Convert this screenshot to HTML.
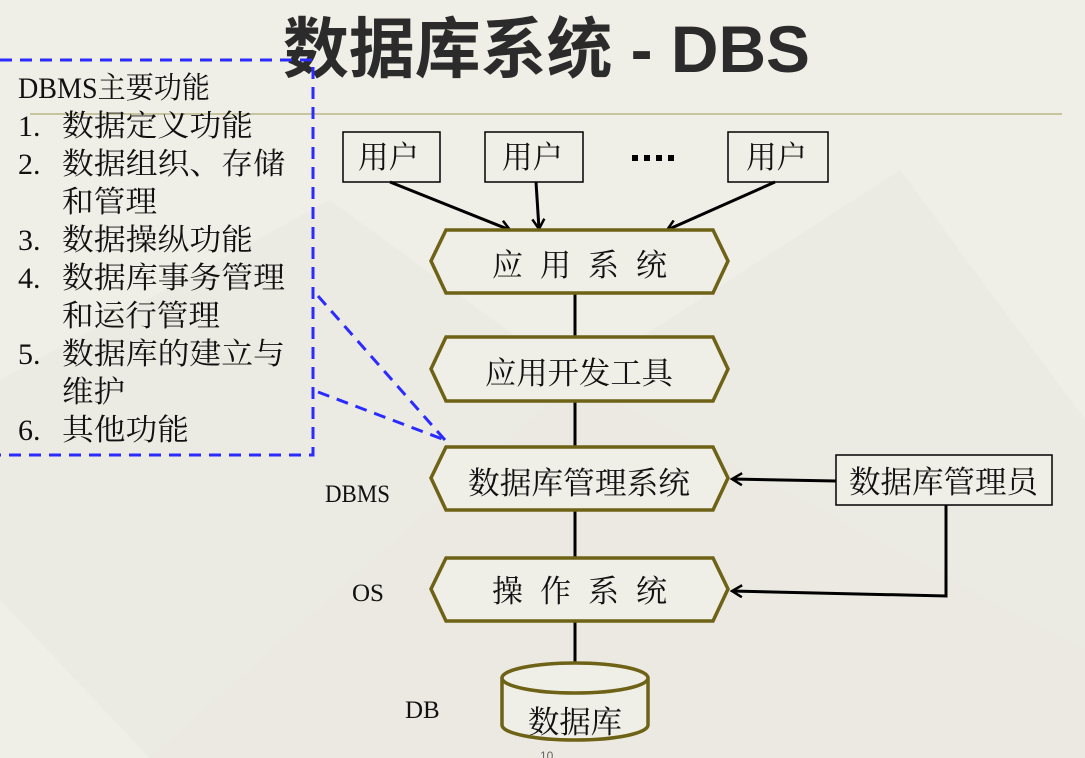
<!DOCTYPE html>
<html><head><meta charset="utf-8"><style>
body{margin:0;width:1085px;height:758px;overflow:hidden;background:#efeee7;}
svg{display:block}
.s{font-family:"Liberation Serif","Noto Serif CJK SC",serif;}
</style></head><body>
<svg width="1085" height="758" viewBox="0 0 1085 758" xmlns="http://www.w3.org/2000/svg">
<defs><marker id="a" markerWidth="14" markerHeight="14" refX="11" refY="7" orient="auto" markerUnits="userSpaceOnUse"><path d="M1,1 L11,7 L1,13" fill="none" stroke="#000" stroke-width="2.5"/></marker></defs>
<rect width="1085" height="758" fill="#efeee7"/>
<path d="M150,758 L575,380 L1085,650 L1085,758 Z" fill="#e7e6de" opacity="0.6"/>
<path d="M330,200 L575,380 L900,170 L1085,420 L1085,650 L575,380 L150,758 L0,600 L0,380 Z" fill="#e9e8e0" opacity="0.5"/>
<line x1="30" y1="114" x2="1062" y2="114" stroke="#c9c4a0" stroke-width="2"/>
<text x="283" y="72" font-family="Liberation Sans,'Noto Sans CJK SC',sans-serif" font-weight="bold" font-size="66" fill="#2b2b2b" textLength="527" lengthAdjust="spacingAndGlyphs">数据库系统 - DBS</text>
<g fill="none" stroke="#2b2bff" stroke-width="3" stroke-dasharray="12,8">
<polyline points="0,60 313,60 313,455 0,455"/>
<line x1="318" y1="296" x2="445" y2="440"/>
<line x1="318" y1="392" x2="445" y2="440"/>
</g>
<g class="s" font-size="30" fill="#111">
<text x="18" y="98" textLength="192" lengthAdjust="spacingAndGlyphs">DBMS主要功能</text>
<text x="18" y="136">1.</text><text x="62" y="136" textLength="191" lengthAdjust="spacingAndGlyphs">数据定义功能</text>
<text x="18" y="174">2.</text><text x="62" y="174" textLength="223" lengthAdjust="spacingAndGlyphs">数据组织、存储</text>
<text x="62" y="212" textLength="95" lengthAdjust="spacingAndGlyphs">和管理</text>
<text x="18" y="250">3.</text><text x="62" y="250" textLength="191" lengthAdjust="spacingAndGlyphs">数据操纵功能</text>
<text x="18" y="288">4.</text><text x="62" y="288" textLength="223" lengthAdjust="spacingAndGlyphs">数据库事务管理</text>
<text x="62" y="326" textLength="158" lengthAdjust="spacingAndGlyphs">和运行管理</text>
<text x="18" y="364">5.</text><text x="62" y="364" textLength="223" lengthAdjust="spacingAndGlyphs">数据库的建立与</text>
<text x="62" y="402" textLength="63" lengthAdjust="spacingAndGlyphs">维护</text>
<text x="18" y="440">6.</text><text x="62" y="440" textLength="127" lengthAdjust="spacingAndGlyphs">其他功能</text>
</g>
<g fill="#efeee7" stroke="#000" stroke-width="1.5">
<rect x="343" y="132" width="97" height="50"/>
<rect x="485" y="132" width="98" height="50"/>
<rect x="728" y="132" width="100" height="50"/>
<rect x="836" y="455" width="216" height="50"/>
</g>
<g class="s" font-size="31" fill="#111">
<text x="358" y="168" textLength="61" lengthAdjust="spacingAndGlyphs">用户</text>
<text x="502" y="168" textLength="61" lengthAdjust="spacingAndGlyphs">用户</text>
<text x="746" y="168" textLength="61" lengthAdjust="spacingAndGlyphs">用户</text>
<text x="849" y="493" textLength="189" lengthAdjust="spacingAndGlyphs">数据库管理员</text>
</g>
<g fill="#000"><rect x="632" y="155" width="6" height="6"/><rect x="644" y="155" width="6" height="6"/><rect x="656" y="155" width="6" height="6"/><rect x="668" y="155" width="6" height="6"/></g>
<g stroke="#000" stroke-width="3" fill="none">
<line x1="575" y1="293" x2="575" y2="662"/>
<line x1="390" y1="182" x2="510" y2="230" marker-end="url(#a)"/>
<line x1="536" y1="182" x2="539" y2="229" marker-end="url(#a)"/>
<line x1="775" y1="182" x2="667" y2="230" marker-end="url(#a)"/>
<line x1="836" y1="481" x2="732" y2="479" marker-end="url(#a)"/>
<polyline points="946,505 946,596 732,591" marker-end="url(#a)"/>
</g>
<g fill="#efeee7" stroke="#6e6216" stroke-width="3.5">
<polygon points="431,261 446,230 713,230 728,261 713,293 446,293"/>
<polygon points="431,369 446,337 713,337 728,369 713,401 446,401"/>
<polygon points="431,478 446,447 713,447 728,478 713,510 446,510"/>
<polygon points="431,589 446,558 713,558 728,589 713,621 446,621"/>
<path d="M502,678 L502,725 A73,15 0 0 0 648,725 L648,678 A73,15 0 0 0 502,678 A73,15 0 0 0 648,678"/>
</g>
<g class="s" font-size="31" fill="#111">
<text x="492" y="276" textLength="175" lengthAdjust="spacing">应用系统</text>
<text x="485" y="384" textLength="188" lengthAdjust="spacingAndGlyphs">应用开发工具</text>
<text x="468" y="494" textLength="222" lengthAdjust="spacingAndGlyphs">数据库管理系统</text>
<text x="492" y="602" textLength="175" lengthAdjust="spacing">操作系统</text>
<text x="528" y="733" textLength="94" lengthAdjust="spacingAndGlyphs">数据库</text>
</g>
<g class="s" font-size="25" fill="#111">
<text x="325" y="502" textLength="65" lengthAdjust="spacingAndGlyphs">DBMS</text><text x="352" y="601">OS</text><text x="405" y="718">DB</text>
</g>
<text x="540" y="760" font-family="Liberation Sans,sans-serif" font-size="12" fill="#666">10</text>
</svg>
</body></html>
